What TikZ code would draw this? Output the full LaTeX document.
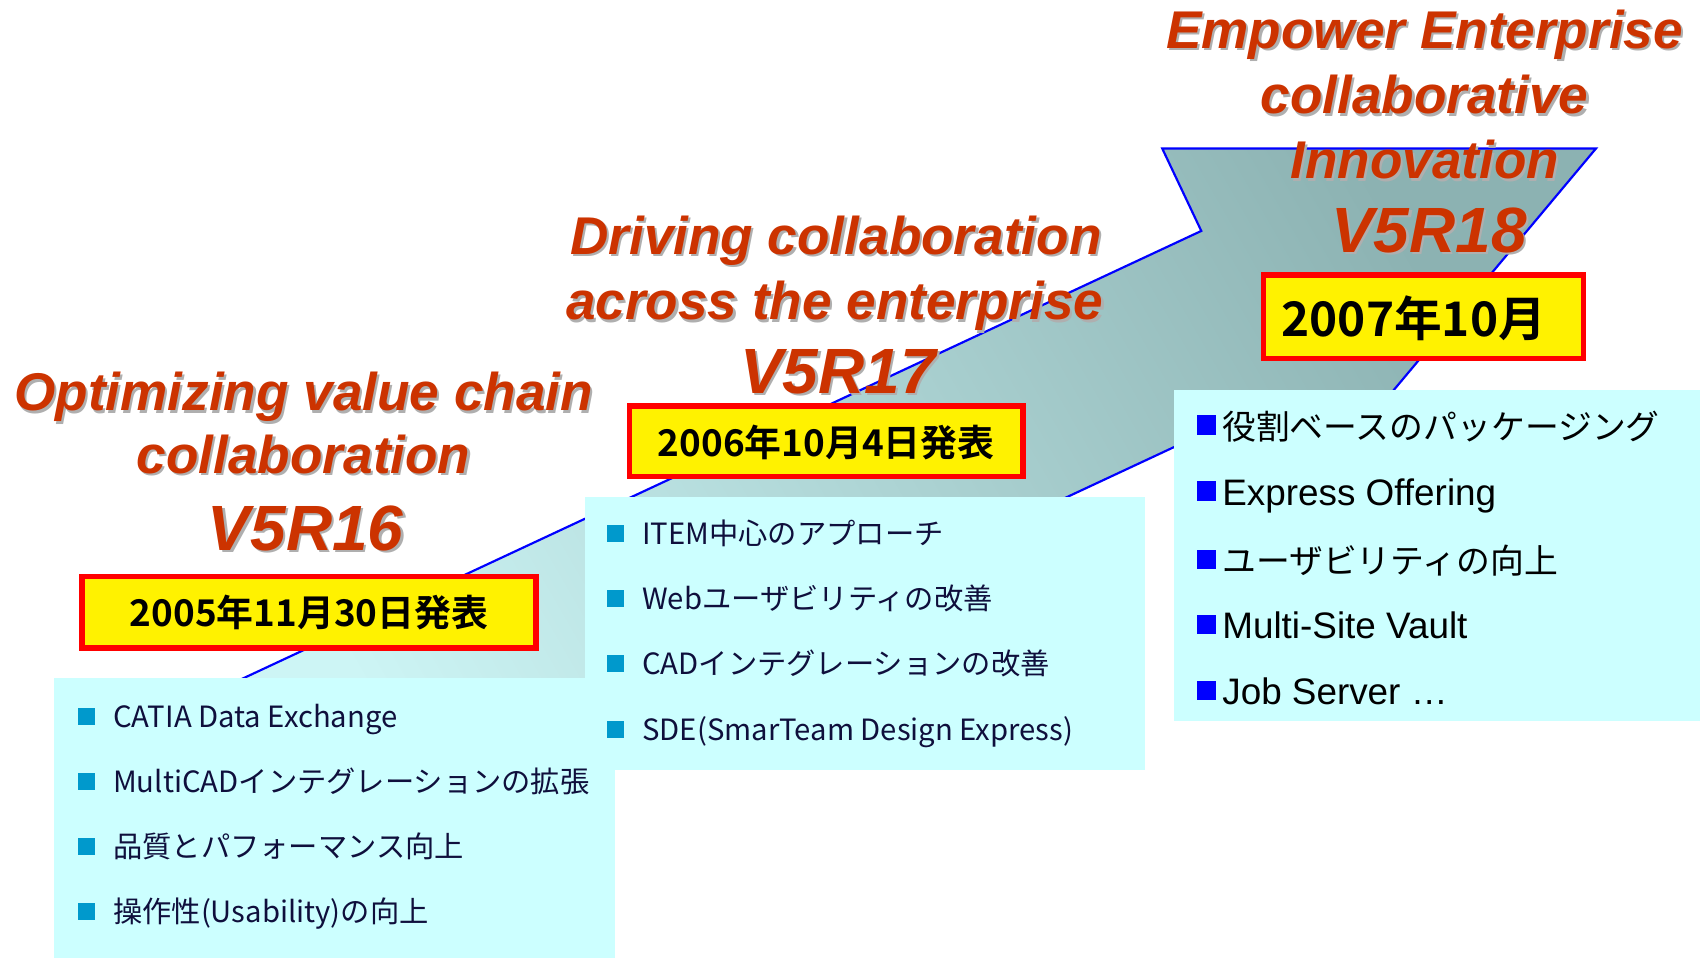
\documentclass[tikz,border=0pt]{standalone}
\usepackage{fontspec}
\setmainfont{Liberation Sans}
\newfontfamily\jp{Noto Sans CJK JP}[BoldFont={Noto Sans CJK JP Bold}]
\usetikzlibrary{calc}
\definecolor{titlered}{RGB}{204,51,0}
\definecolor{shadowgray}{RGB}{175,175,175}
\definecolor{boxcyan}{RGB}{204,255,255}
\definecolor{navytext}{RGB}{15,15,60}
\definecolor{bulletblue}{RGB}{0,153,204}
\definecolor{arrowlight}{RGB}{205,245,245}
\definecolor{arrowdark}{RGB}{140,178,178}
\tikzset{
  ttl/.style={anchor=base, inner sep=0pt, text=titlered, font=\fontsize{24.5pt}{30pt}\selectfont\bfseries\itshape},
  ver/.style={anchor=base, inner sep=0pt, text=titlered, font=\fontsize{29.5pt}{36pt}\selectfont\bfseries\itshape},
  infobox/.style={fill=boxcyan, draw=none},
  datebox/.style={draw=red, line width=2.5pt, fill=yellow, inner sep=0pt},
  datetext/.style={inner sep=0pt, text=black, font=\jp\bfseries\fontsize{17pt}{20pt}\selectfont},
  bigdatetext/.style={inner sep=0pt, text=black, font=\jp\bfseries\fontsize{22pt}{26pt}\selectfont},
  itemtext/.style={anchor=base west, inner sep=0pt, text=navytext, font=\jp\fontsize{13.5pt}{16pt}\selectfont},
  rtext/.style={anchor=base west, inner sep=0pt, text=black, font=\fontsize{17pt}{20pt}\selectfont},
  sqbullet/.style={fill=bulletblue, draw=none},
  rbullet/.style={fill=blue, draw=none},
  arrowshape/.style={draw=blue, line width=1pt, shading=axis, top color=arrowdark, bottom color=arrowlight, shading angle=-60},
}
\newcommand\shtitle[4]{%
  \node[#1, text=shadowgray, xshift=1pt, yshift=-1pt] (#2s) at (#3) {#4};
  \node[#1] (#2) at (#3) {#4};}
\newcommand\jpr{\jp\fontsize{15.6pt}{20pt}\selectfont}
\begin{document}
\begin{tikzpicture}[x=0.5pt, y=-0.5pt]
\useasboundingbox (0,0) rectangle (1568,884);
\fill[white] (0,0) rectangle (1568,884);

% big arrow
\path[arrowshape] (1472,137) -- (1072,137) -- (1108,213) -- (200,637) -- (272,791)
  -- (1180,367) -- (1215,444) -- cycle;

% info boxes
\path[infobox] (540,458) rectangle (1056,710);
\path[infobox] (50,625) rectangle (567,884);
\path[infobox] (1083,360) rectangle (1568,665);

% date boxes
\node[datebox, minimum width=209.5pt, minimum height=33pt] (d16) at (285,564.5) {};
\node[datebox, minimum width=181.5pt, minimum height=32.5pt] (d17) at (762,407) {};
\node[datebox, minimum width=147.5pt, minimum height=38.5pt] (d18) at (1313,292) {};
\node[datetext] (t16) at (285,565) {2005年11月30日発表};
\node[datetext] (t17) at (762,408) {2006年10月4日発表};
\node[bigdatetext] (t18) at (1304,294) {2007年10月};

% titles
\shtitle{ttl}{a1}{1314,45}{Empower Enterprise}
\shtitle{ttl}{a2}{1314,105}{collaborative}
\shtitle{ttl}{a3}{1314,165}{Innovation}
\shtitle{ver}{a4}{1318,233}{V5R18}
\shtitle{ttl}{b1}{771,235}{Driving collaboration}
\shtitle{ttl}{b2}{770,295}{across the enterprise}
\shtitle{ver}{b3}{773,363}{V5R17}
\shtitle{ttl}{c1}{280,379}{Optimizing value chain}
\shtitle{ttl}{c2}{280,437}{collaboration}
\shtitle{ver}{c3}{282,508}{V5R16}

% left items
\foreach \y in {661,721,781,841} \path[sqbullet] (72,\y-8) rectangle (88,\y+8);
\node[itemtext] (l1) at (104,671) {CATIA Data Exchange};
\node[itemtext] (l2) at (104,731) {MultiCADインテグレーションの拡張};
\node[itemtext] (l3) at (104,791) {品質とパフォーマンス向上};
\node[itemtext] (l4) at (104,851) {操作性(Usability)の向上};

% middle items
\foreach \y in {492,552,612,673} \path[sqbullet] (560,\y-8) rectangle (576,\y+8);
\node[itemtext] (m1) at (592,502) {ITEM中心のアプローチ};
\node[itemtext] (m2) at (592,562) {Webユーザビリティの改善};
\node[itemtext] (m3) at (592,622) {CADインテグレーションの改善};
\node[itemtext] (m4) at (592,683) {SDE(SmarTeam Design Express)};

% right items
\foreach \y in {392,453,516,576,637} \path[rbullet] (1104,\y-9) rectangle (1122,\y+9);
\node[rtext] (r1) at (1127,405) {\jpr 役割ベースのパッケージング};
\node[rtext] (r2) at (1127,466) {Express Offering};
\node[rtext] (r3) at (1127,529) {\jpr ユーザビリティの向上};
\node[rtext] (r4) at (1127,589) {Multi-Site Vault};
\node[rtext] (r5) at (1127,650) {Job Server …};
\end{tikzpicture}
\end{document}
